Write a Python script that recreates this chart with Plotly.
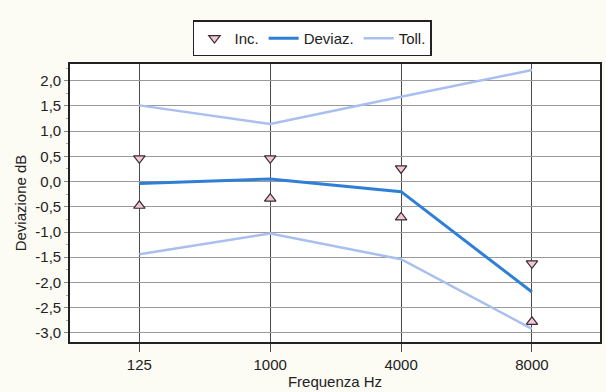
import plotly.graph_objects as go

# Frequency bands (categorical x axis)
freq_labels = ["125", "1000", "4000", "8000"]

# Measured deviation (dB)
deviaz = [-0.04, 0.05, -0.20, -2.19]

# Uncertainty interval: upper and lower bounds (dB)
inc_upper = [0.46, 0.46, 0.26, -1.62]
inc_lower = [-0.48, -0.34, -0.71, -2.78]

# Tolerance limits (dB)
toll_upper = [1.51, 1.14, 1.68, 2.21]
toll_lower = [-1.44, -1.03, -1.54, -2.92]

# Y tick values and labels (Italian decimal comma)
y_ticks = [2.0, 1.5, 1.0, 0.5, 0.0, -0.5, -1.0, -1.5, -2.0, -2.5, -3.0]
y_ticklabels = ["2,0", "1,5", "1,0", "0,5", "0,0", "-0,5", "-1,0", "-1,5", "-2,0", "-2,5", "-3,0"]

FONT = "Liberation Sans, Arial, sans-serif"
DEV_BLUE = "#2f7fd6"
TOL_BLUE = "#a9bff0"
MARK_FILL = "#f2c9d2"
MARK_EDGE = "#3a2a33"

fig = go.Figure()

fig.add_trace(go.Scatter(
    x=freq_labels, y=inc_upper, mode="markers", name="Inc.",
    marker=dict(symbol="triangle-down", size=10, color=MARK_FILL,
                line=dict(color=MARK_EDGE, width=1.2)),
))
fig.add_trace(go.Scatter(
    x=freq_labels, y=inc_lower, mode="markers", name="Inc.", showlegend=False,
    marker=dict(symbol="triangle-up", size=10, color=MARK_FILL,
                line=dict(color=MARK_EDGE, width=1.2)),
))
fig.add_trace(go.Scatter(
    x=freq_labels, y=deviaz, mode="lines", name="Deviaz.",
    line=dict(color=DEV_BLUE, width=3),
))
fig.add_trace(go.Scatter(
    x=freq_labels, y=toll_upper, mode="lines", name="Toll.",
    line=dict(color=TOL_BLUE, width=2.5),
))
fig.add_trace(go.Scatter(
    x=freq_labels, y=toll_lower, mode="lines", name="Toll.", showlegend=False,
    line=dict(color=TOL_BLUE, width=2.5),
))

fig.update_layout(
    width=606, height=392,
    margin=dict(l=70, r=4, t=64, b=49),
    paper_bgcolor="#fcfbf4",
    plot_bgcolor="white",
    font=dict(family=FONT, size=15, color="#222"),
    legend=dict(
        orientation="h", x=0.232, y=0.948, xref="paper", yref="container",
        xanchor="left", yanchor="top",
        bgcolor="white", bordercolor="#222", borderwidth=1.5,
        font=dict(size=15, color="#222"),
        traceorder="normal", itemwidth=30, tracegroupgap=0,
    ),
    xaxis=dict(
        type="category", range=[-0.53, 3.52],
        showgrid=True, gridcolor="#4a4a4a", gridwidth=1.3,
        ticks="outside", ticklen=8, tickcolor="#4a4a4a", tickwidth=1.3,
        showline=True, linecolor="#222", linewidth=1.6, mirror=True,
        title=dict(text="Frequenza Hz", standoff=5, font=dict(size=15)),
        tickfont=dict(size=15),
        zeroline=False,
    ),
    yaxis=dict(
        range=[-3.18, 2.33],
        tickvals=y_ticks, ticktext=y_ticklabels,
        showgrid=True, gridcolor="#999", gridwidth=1.2,
        ticks="outside", ticklen=4, tickcolor="#888",
        minor=dict(dtick=0.25, ticks="outside", ticklen=2, tickcolor="#aaa", showgrid=False),
        showline=True, linecolor="#222", linewidth=1.6, mirror=True,
        title=dict(text="Deviazione dB", standoff=5, font=dict(size=15)),
        tickfont=dict(size=15),
        zeroline=False,
    ),
)

fig.write_html("out.html")
